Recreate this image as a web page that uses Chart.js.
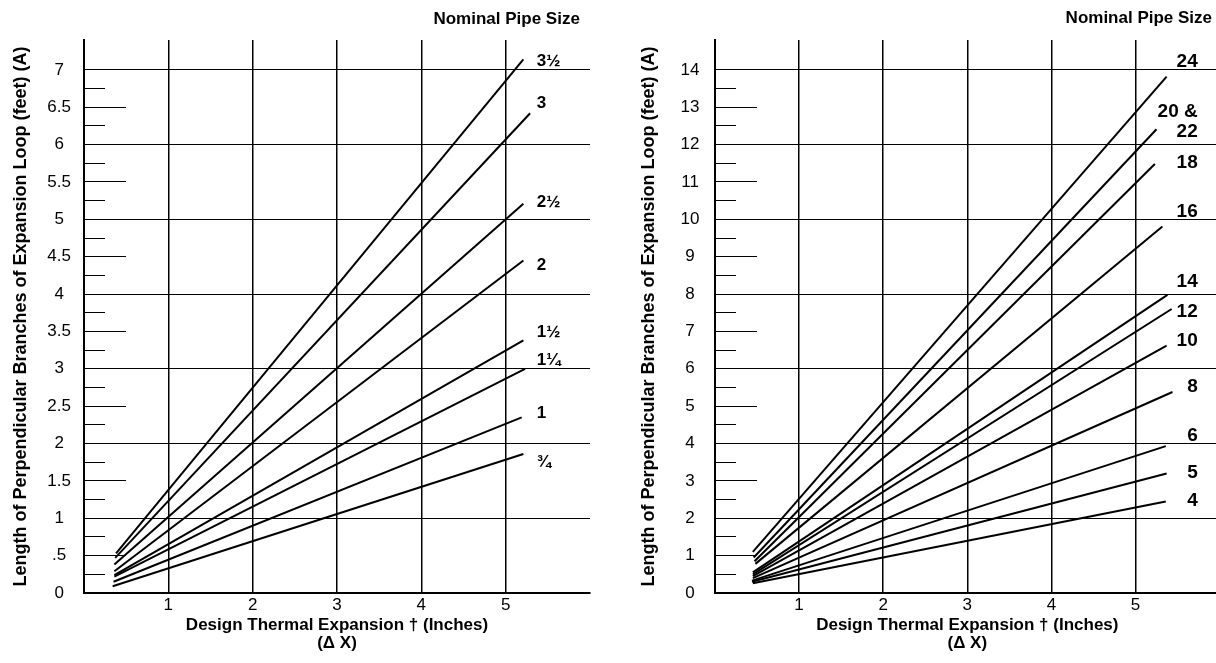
<!DOCTYPE html>
<html><head><meta charset="utf-8">
<script src="https://cdn.jsdelivr.net/npm/chart.js@4.4.1/dist/chart.umd.min.js"></script>
<style>
html,body{margin:0;padding:0;background:#fff;overflow:hidden;width:1216px;height:663px;position:relative}
canvas{position:absolute;top:0}
#c1{left:0}
#c2{left:608px}
</style></head><body>
<canvas id="c1" width="608" height="663"></canvas>
<canvas id="c2" width="620" height="663"></canvas>
<script>
// ---------------- data ----------------
const xTickValues = [1, 2, 3, 4, 5];
const xTickLabels = ['1', '2', '3', '4', '5'];

// Left chart (small pipe sizes)
const leftSizes  = ['3½', '3', '2½', '2', '1½', '1¼', '1', '¾'];
const leftStartX = [0.38, 0.37, 0.36, 0.36, 0.36, 0.36, 0.35, 0.34];
const leftStartY = [0.53, 0.47, 0.38, 0.29, 0.24, 0.22, 0.15, 0.09];
const leftEndX   = [5.21, 5.29, 5.21, 5.21, 5.21, 5.23, 5.19, 5.21];
const leftEndY   = [7.14, 6.42, 5.21, 4.45, 3.38, 3.00, 2.35, 1.86];
const leftLabelY = [7.12, 6.55, 5.23, 4.38, 3.49, 3.11, 2.40, 1.75];
const leftYTicks = [0, 0.5, 1, 1.5, 2, 2.5, 3, 3.5, 4, 4.5, 5, 5.5, 6, 6.5, 7];
const leftYTickLabels = ['0', '.5', '1', '1.5', '2', '2.5', '3', '3.5', '4', '4.5', '5', '5.5', '6', '6.5', '7'];
const leftMinorTicks = [0.25, 0.75, 1.25, 1.75, 2.25, 2.75, 3.25, 3.75, 4.25, 4.75, 5.25, 5.75, 6.25, 6.75];

// Right chart (large pipe sizes)
const rightSizes  = ['24', '20 &\n22', '18', '16', '14', '12', '10', '8', '6', '5', '4'];
const rightStartX = [0.45, 0.46, 0.47, 0.48, 0.45, 0.45, 0.45, 0.45, 0.44, 0.44, 0.45];
const rightStartY = [1.10, 0.95, 0.85, 0.78, 0.55, 0.50, 0.45, 0.40, 0.33, 0.30, 0.26];
const rightEndX   = [5.37, 5.25, 5.23, 5.32, 5.38, 5.43, 5.37, 5.44, 5.36, 5.37, 5.36];
const rightEndY   = [13.82, 12.41, 11.48, 9.81, 7.98, 7.60, 6.62, 5.38, 3.93, 3.20, 2.45];
const rightLabelY = [14.21, 12.61, 11.51, 10.21, 8.33, 7.53, 6.75, 5.52, 4.21, 3.22, 2.47];
const rightYTicks = [0, 1, 2, 3, 4, 5, 6, 7, 8, 9, 10, 11, 12, 13, 14];
const rightYTickLabels = ['0', '1', '2', '3', '4', '5', '6', '7', '8', '9', '10', '11', '12', '13', '14'];
const rightMinorTicks = [0.5, 1.5, 2.5, 3.5, 4.5, 5.5, 6.5, 7.5, 8.5, 9.5, 10.5, 11.5, 12.5, 13.5];

const headerText = 'Nominal Pipe Size';
const xTitle = ['Design Thermal Expansion † (Inches)', '(Δ X)'];
const yTitle = 'Length of Perpendicular Branches of Expansion Loop (feet) (A)';

// ---------------- rendering ----------------
const FONT = '"Liberation Sans", Arial, Helvetica, sans-serif';
const CLEAR = 'rgba(0,0,0,0)';

function buildDatasets(names, sx, sy, ex, ey) {
  return names.map((n, i) => ({
    label: n,
    data: [{x: sx[i], y: sy[i]}, {x: ex[i], y: ey[i]}],
    borderColor: '#000', borderWidth: 2, pointRadius: 0, fill: false, tension: 0
  }));
}

function labelPlugin(o) {
  return {
    id: 'sizeLabels',
    afterDatasetsDraw(chart) {
      const {ctx, scales: {x, y}} = chart;
      ctx.save();
      ctx.fillStyle = '#000';
      ctx.textBaseline = 'middle';
      ctx.font = 'bold ' + o.size + 'px ' + FONT;
      ctx.textAlign = o.align;
      o.names.forEach((n, i) => {
        const lines = n.split('\n');
        const px = x.getPixelForValue(o.x);
        const py = y.getPixelForValue(o.ys[i]);
        lines.forEach((t, j) => ctx.fillText(t, px, py + (j - (lines.length - 1) / 2) * o.lh));
      });
      ctx.font = 'bold 17px ' + FONT;
      ctx.textAlign = 'right';
      ctx.fillText(headerText, x.getPixelForValue(o.headerX), y.getPixelForValue(o.headerY));
      ctx.restore();
    }
  };
}

function tickAxis(c, values, len, color, weight) {
  return {
    type: 'linear', position: 'left', weight: weight, min: 0, max: c.yMax,
    afterBuildTicks: s => { s.ticks = values.map(v => ({value: v})); },
    afterFit: s => { s.width = 0; },
    ticks: {display: false},
    grid: {drawOnChartArea: false, drawTicks: true, tickLength: -len, tickWidth: 1,
           color: '#000', tickColor: color},
    border: {display: false}
  };
}

function makeChart(id, c) {
  return new Chart(document.getElementById(id), {
    type: 'line',
    data: {datasets: buildDatasets(c.names, c.sx, c.sy, c.ex, c.ey)},
    plugins: [labelPlugin(c.labels)],
    options: {
      responsive: false, animation: false, devicePixelRatio: 1,
      layout: {padding: {top: 40, right: c.padRight, bottom: 0, left: 0}},
      plugins: {legend: {display: false}, tooltip: {enabled: false}, title: {display: false}},
      scales: {
        x: {
          type: 'linear', position: 'bottom', min: 0, max: 6,
          afterBuildTicks: s => { s.ticks = xTickValues.map(v => ({value: v})); },
          afterFit: s => { s.height = 70; },
          ticks: {callback: (v, i) => xTickLabels[i], font: {family: FONT, size: 17}, color: '#000', padding: 2, autoSkip: false, maxRotation: 0},
          grid: {drawOnChartArea: true, drawTicks: false, color: '#000', lineWidth: 1.5},
          border: {display: true, color: '#000', width: 2},
          title: {display: true, text: xTitle, color: '#000',
                  font: {family: FONT, size: 17, weight: 'bold', lineHeight: '18px'},
                  padding: {top: 0, bottom: 11}}
        },
        y: {
          type: 'linear', position: 'left', weight: 3, min: 0, max: c.yMax,
          afterBuildTicks: s => { s.ticks = c.yTicks.map(v => ({value: v})); },
          afterFit: s => { s.width = c.axisWidth; },
          ticks: {callback: (v, i) => c.yTickLabels[i], font: {family: FONT, size: 17}, color: '#000',
                  padding: c.labelPad, crossAlign: 'center', autoSkip: false},
          grid: {drawOnChartArea: true, drawTicks: false, lineWidth: 1,
                 color: ctx => (ctx.tick && c.isGrid(ctx.tick.value)) ? '#000' : CLEAR},
          border: {display: true, color: '#000', width: 2},
          title: {display: true, text: yTitle, color: '#000',
                  font: {family: FONT, size: 18, weight: 'bold'},
                  padding: {top: c.titlePad, bottom: 0}}
        },
        yLong: tickAxis(c, c.yTicks, 42, ctx => (ctx.tick && c.isLong(ctx.tick.value)) ? '#000' : CLEAR, 2),
        yShort: tickAxis(c, c.minor, 21, '#000', 1)
      }
    }
  });
}

makeChart('c1', {
  names: leftSizes, sx: leftStartX, sy: leftStartY, ex: leftEndX, ey: leftEndY,
  yMax: 7.4, yTicks: leftYTicks, yTickLabels: leftYTickLabels, minor: leftMinorTicks,
  isGrid: v => Number.isInteger(v) && v > 0,
  isLong: v => !Number.isInteger(v),
  axisWidth: 84, labelPad: 13, titlePad: 10.5, padRight: 18,
  labels: {names: leftSizes, ys: leftLabelY, x: 5.37, align: 'left', size: 17, lh: 20, headerX: 5.88, headerY: 7.68}
});

makeChart('c2', {
  names: rightSizes, sx: rightStartX, sy: rightStartY, ex: rightEndX, ey: rightEndY,
  yMax: 14.8, yTicks: rightYTicks, yTickLabels: rightYTickLabels, minor: rightMinorTicks,
  isGrid: v => v > 0 && v % 2 === 0,
  isLong: v => v % 2 === 1,
  axisWidth: 107, labelPad: 15.5, titlePad: 30.5, padRight: 8.4,
  labels: {names: rightSizes, ys: rightLabelY, x: 5.74, align: 'right', size: 19, lh: 20, headerX: 5.91, headerY: 15.39}
});
</script>
</body></html>
